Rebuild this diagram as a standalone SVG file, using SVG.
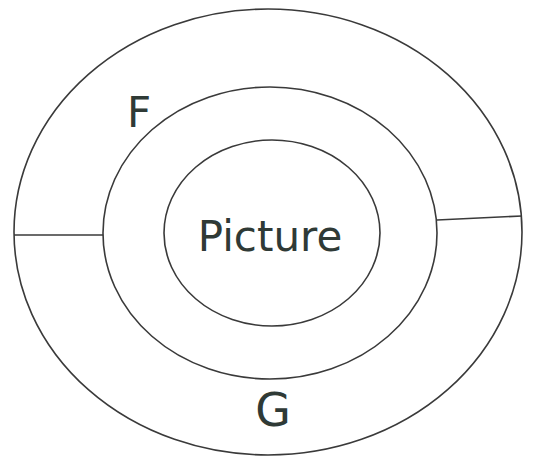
<svg xmlns="http://www.w3.org/2000/svg" width="533" height="456" viewBox="0 0 533 456">
<style>
.ring{fill:none;stroke:#3a3a3a;stroke-width:1.6}
.lbl{font-family:"DejaVu Sans",sans-serif;fill:#2f3a36}
</style>
<rect width="533" height="456" fill="#ffffff"/>
<g id="outer"><ellipse class="ring" cx="268" cy="232" rx="254" ry="223"/></g>
<g id="middle"><ellipse class="ring" cx="270" cy="233" rx="167" ry="146"/></g>
<g id="inner"><ellipse class="ring" cx="272" cy="233" rx="108" ry="93"/>
<text class="lbl" x="270" y="251" font-size="42" text-anchor="middle">Picture</text></g>
<g id="connectors">
<line class="ring" x1="14" y1="235" x2="103" y2="235" stroke-width="2.2"/>
<line class="ring" x1="437" y1="220" x2="522" y2="216"/>
</g>
<g id="labelF"><text class="lbl" x="139" y="127" font-size="42" text-anchor="middle">F</text></g>
<g id="labelG"><text class="lbl" x="273" y="426" font-size="46" text-anchor="middle">G</text></g>
</svg>
